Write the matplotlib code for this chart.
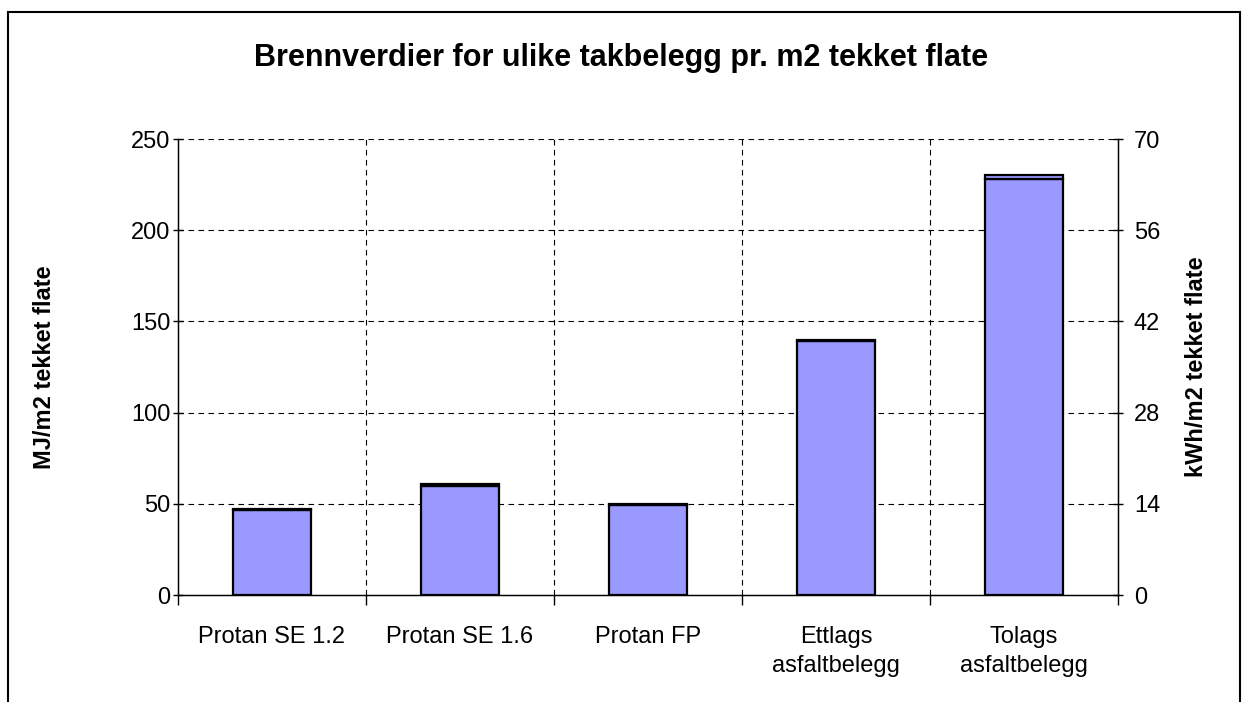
import matplotlib
matplotlib.use("Agg")
import matplotlib.pyplot as plt
from matplotlib.patches import Rectangle

plt.rcParams['font.family'] = ['Liberation Sans', 'DejaVu Sans']

categories = ["Protan SE 1.2", "Protan SE 1.6", "Protan FP", "Ettlags\nasfaltbelegg", "Tolags\nasfaltbelegg"]
base_values = [46.5, 60, 49.5, 139, 228]
top_values = [0.5, 1, 0.5, 1, 2]
left_ticks = [0, 50, 100, 150, 200, 250]
right_ticks = [0, 14, 28, 42, 56, 70]

fig = plt.figure(figsize=(12.42, 7.02), dpi=100)
ax = fig.add_axes([178/1242, 1-595/702, (1118-178)/1242, (595-139)/702])

x = list(range(len(categories)))
w = 0.415
ax.bar(x, base_values, width=w, color="#9999FF", edgecolor="black", linewidth=1.6, zorder=3)
ax.bar(x, top_values, bottom=base_values, width=w, color="#9999FF", edgecolor="black", linewidth=1.6, zorder=3)

ax.set_xlim(-0.5, len(categories) - 0.5)
ax.set_ylim(0, 250)
ax.set_yticks(left_ticks)
ax.set_yticklabels([str(t) for t in left_ticks], fontsize=17)

ax.set_xticks(x)
ax.set_xticklabels(categories, fontsize=17, linespacing=1.45)
ax.tick_params(axis='x', length=0, pad=22)
ax.set_xticks([i - 0.5 for i in range(len(categories) + 1)], minor=True)
ax.tick_params(axis='x', which='minor', length=7, direction='out', width=1)
ax.tick_params(axis='y', length=7, direction='inout', width=1, pad=2)

for y in left_ticks[1:]:
    ax.axhline(y, color="black", linestyle=(0, (5, 4)), linewidth=0.8, zorder=1)
for i in range(1, len(categories)):
    ax.axvline(i - 0.5, color="black", linestyle=(0, (5, 4)), linewidth=0.8, zorder=1)

ax.spines['top'].set_visible(False)
for s in ['left', 'right', 'bottom']:
    ax.spines[s].set_linewidth(1.0)

ax.set_ylabel("MJ/m2 tekket flate", fontsize=17, fontweight='bold', labelpad=54)

ax2 = ax.twinx()
ax2.set_ylim(0, 70)
ax2.set_yticks(right_ticks)
ax2.set_yticklabels([str(t) for t in right_ticks], fontsize=17)
ax2.tick_params(axis='y', length=7, direction='inout', width=1, pad=8)
ax2.spines['top'].set_visible(False)
ax2.set_ylabel("kWh/m2 tekket flate", fontsize=17, fontweight='bold', labelpad=18)

fig.text(0.5, 1 - 58/702, "Brennverdier for ulike takbelegg pr. m2 tekket flate",
         ha='center', va='center', fontsize=22, fontweight='bold')

fig.patches.append(Rectangle((8/1242, -0.05), (1240-8)/1242, 1.05 - 12/702, transform=fig.transFigure,
                             fill=False, edgecolor="black", linewidth=1.5))

fig.savefig("out.png", dpi=100, facecolor="white")
